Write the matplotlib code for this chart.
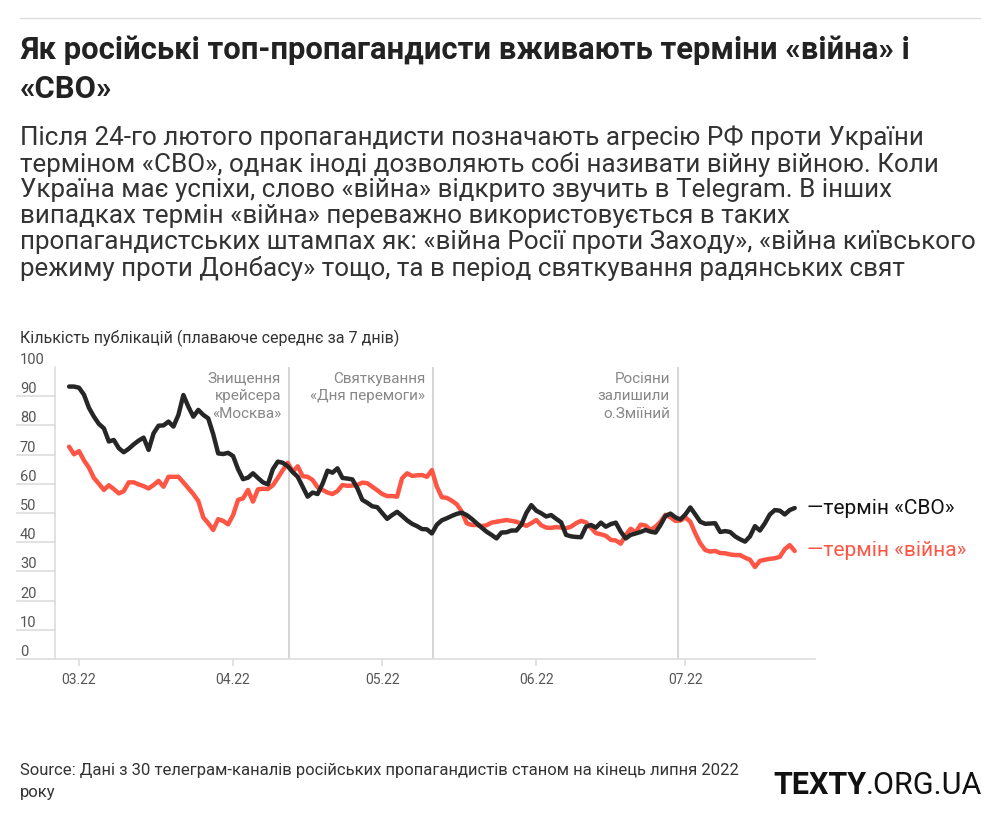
import matplotlib
matplotlib.use("Agg")
import matplotlib.pyplot as plt
import matplotlib.transforms as mtransforms
import pandas as pd

plt.rcParams['font.family'] = ['Roboto', 'DejaVu Sans']

# ---- data (7-day rolling mean of publications), daily from 2022-02-27 ----
start_date = "2022-02-27"
svo = [93.3, 93.3, 92.9, 90.5, 86, 83, 80.5, 79, 74.5, 75, 72.2, 70.8, 72, 73.5, 74.8, 75.8, 71.6,
       77.3, 79.9, 80, 81.3, 79.6, 83.6, 90.4, 86.4, 83, 85.3, 83.6, 82.4, 77, 70.4, 70.2, 70.6,
       69.5, 65, 61.6, 62.1, 63.6, 62, 60.5, 59.8, 65, 67.6, 67.2, 66, 64, 62.4, 59, 55.6, 57,
       56.5, 60, 64.5, 63.8, 65.3, 62, 61.8, 61.5, 58.5, 54.5, 53.5, 52.3, 52, 50, 48, 49.3, 50.4,
       49, 47.5, 46.3, 45.5, 44.5, 44.4, 43, 46, 47.5, 48.2, 49, 49.7, 50.1, 49.3, 48, 46.5, 45,
       43.6, 42.5, 41.3, 43.3, 43.4, 44, 44, 46, 50, 52.7, 50.8, 49.9, 48.8, 49.3, 48, 46.8, 42.5,
       42, 41.8, 41.7, 45.3, 45.9, 45, 46.7, 45.3, 46.2, 46.7, 43.6, 41.3, 42.5, 43, 43.5, 44.2,
       43.6, 43.3, 45.9, 49, 49.8, 48.5, 47.8, 49.5, 51.9, 49.5, 47, 46.3, 46.4, 46.5, 43.5, 43.8,
       43.5, 42, 41, 40.2, 42, 45.5, 44, 46.5, 49.5, 51, 50.8, 49.5, 51, 51.7]
viina = [72.7, 70.1, 71.2, 68, 65.5, 62, 60, 57.9, 59.5, 58.2, 56.7, 57.5, 60.5, 60.5, 59.8, 59.2,
         58.4, 59.6, 61, 59, 62.4, 62.4, 62.4, 60.5, 58.5, 56.5, 54.1, 48.5, 46.5, 44.2, 47.9, 47.3,
         46.1, 49.3, 54.5, 55, 57.9, 53.9, 58.1, 58.3, 58.2, 59.5, 62, 64.7, 67.2, 64.1, 66, 62.6,
         62.4, 61.3, 58.8, 57.9, 57, 56.5, 57.5, 59.6, 59.3, 59.4, 59.6, 60.4, 60.2, 59, 57.8, 56.5,
         55.8, 55.8, 55.6, 61.9, 63.6, 62.7, 62.9, 63, 62.4, 64.7, 59, 55.4, 55.2, 54.2, 53, 50.5,
         46.5, 45.9, 45.9, 45.5, 45.8, 46.7, 47, 47.3, 47.6, 47.3, 47, 46.3, 45.6, 46.5, 47.6, 45.8,
         45, 44.9, 45.2, 45, 44.8, 45.3, 46.5, 47.3, 46.8, 45, 43.1, 42.7, 42.2, 40.8, 40.6, 39.5,
         42.5, 44.6, 43.4, 46, 45.7, 44.2, 45.3, 47, 49.4, 48.5, 47.3, 47.4, 48.5, 47, 43, 39.6, 37.3,
         36.8, 37, 36.3, 36.2, 35.8, 35.6, 35.6, 34.7, 34, 31.5, 33.6, 34, 34.3, 34.5, 35, 37.6, 39,
         37]
series_labels = ["—термін «СВО»", "—термін «війна»"]
month_ticks = ["2022-03-01", "2022-04-01", "2022-05-01", "2022-06-01", "2022-07-01"]
month_labels = ["03.22", "04.22", "05.22", "06.22", "07.22"]
y_ticks = [0, 10, 20, 30, 40, 50, 60, 70, 80, 90, 100]
events = ["2022-04-12 06:00", "2022-05-11 05:00", "2022-06-29 12:00"]
event_labels = ["Знищення\nкрейсера\n«Москва»", "Святкування\n«Дня перемоги»",
                "Росіяни\nзалишили\no.Зміїний"]

dates = pd.date_range(start_date, periods=len(svo), freq="D")

BLACK = "#262626"
RED = "#ff5544"
GRID = "#dddddd"

fig = plt.figure(figsize=(10, 8.16), dpi=100)
W, H = 1000, 816


def fx(px):
    return px / W


def fy(py):
    return 1 - py / H


ax = fig.add_axes([fx(55), fy(659), fx(815) - fx(55), fy(367) - fy(659)])

ax.plot(dates, viina, color=RED, lw=3.2, solid_capstyle="round", zorder=3)
ax.plot(dates, svo, color=BLACK, lw=3.2, solid_capstyle="round", zorder=4)

ax.set_ylim(0, 100)
ax.set_xlim(pd.Timestamp("2022-02-24 04:00"), pd.Timestamp("2022-07-27 02:00"))

for s in ["top", "right"]:
    ax.spines[s].set_visible(False)
for s in ["left", "bottom"]:
    ax.spines[s].set_color(GRID)
    ax.spines[s].set_linewidth(1.2)

ax.set_yticks([])
ax.set_xticks([pd.Timestamp(d) for d in month_ticks])
ax.set_xticklabels(month_labels, fontsize=10, color="#555555")
ax.tick_params(axis="x", length=5, color=GRID, width=1.2, pad=5)

# y tick labels above short grid segments
btr = mtransforms.blended_transform_factory(fig.transFigure, ax.transData)
for v in y_ticks:
    ax.text(fx(20), v, str(v), transform=btr, fontsize=10.5, color="#555555",
            ha="left", va="bottom", clip_on=False)
    if v < 100:
        ax.plot([fx(17), fx(55)], [v, v], transform=btr, color=GRID, lw=1.2,
                clip_on=False)

# event lines and labels
for d, lab in zip(events, event_labels):
    t = pd.Timestamp(d)
    ax.axvline(t, color="#cccccc", lw=1.1, zorder=1)
    ax.annotate(lab, xy=(t, 100), xytext=(-8, -5), textcoords="offset pixels",
                ha="right", va="top", fontsize=11, color="#888888",
                linespacing=1.3, multialignment="right")

# line-end labels
end_x = pd.Timestamp("2022-07-25 10:00")
ax.text(end_x, svo[-1], series_labels[0], color="#111111", fontsize=15,
        va="center", ha="left", clip_on=False)
ax.text(end_x, viina[-1], series_labels[1], color=RED, fontsize=15,
        va="center", ha="left", clip_on=False)

# header
fig.add_artist(plt.Line2D([fx(20), fx(980)], [fy(18), fy(18)], color="#dddddd", lw=1))
fig.text(fx(20), fy(50), "Як російські топ-пропагандисти вживають терміни «війна» і",
         fontsize=22.3, fontweight="bold", color="#222222", va="center", ha="left")
fig.text(fx(20), fy(89), "«СВО»", fontsize=22.3, fontweight="bold", color="#222222",
         va="center", ha="left")

sub_lines = [
    "Після 24-го лютого пропагандисти позначають агресію РФ проти України",
    "терміном «СВО», однак іноді дозволяють собі називати війну війною. Коли",
    "Україна має успіхи, слово «війна» відкрито звучить в Telegram. В інших",
    "випадках термін «війна» переважно використовується в таких",
    "пропагандистських штампах як: «війна Росії проти Заходу», «війна київського",
    "режиму проти Донбасу» тощо, та в період святкування радянських свят",
]
for i, line in enumerate(sub_lines):
    fig.text(fx(20), fy(138 + i * 26.1), line, fontsize=18.7, color="#333333",
             va="center", ha="left")

fig.text(fx(20), fy(338), "Кількість публікацій (плаваюче середнє за 7 днів)",
         fontsize=11.5, color="#333333", va="center", ha="left")

fig.text(fx(20), fy(770),
         "Source: Дані з 30 телеграм-каналів російських пропагандистів станом на кінець липня 2022",
         fontsize=12, color="#333333", va="center", ha="left")
fig.text(fx(20), fy(792), "року", fontsize=12, color="#333333", va="center", ha="left")

t1 = fig.text(fx(773), fy(785), "TEXTY", fontsize=22, fontweight="bold", color="#111111",
              va="center", ha="left")
fig.canvas.draw()
bb = t1.get_window_extent()
fig.text(bb.x1 / W, fy(785), ".ORG.UA", fontsize=22, color="#111111",
         va="center", ha="left")

fig.savefig("out.png", dpi=100, facecolor="white")
